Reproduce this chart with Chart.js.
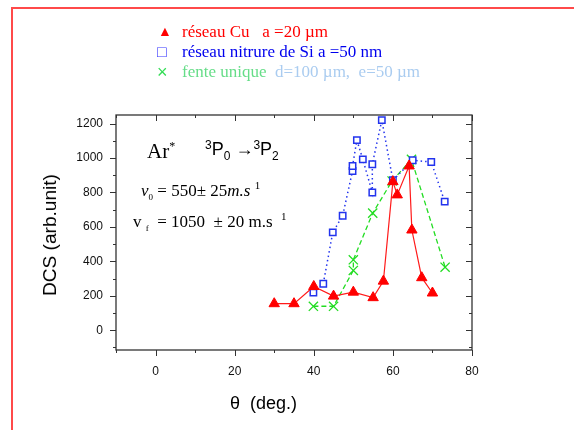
<!DOCTYPE html>
<html>
<head>
<meta charset="utf-8">
<script src="https://cdn.jsdelivr.net/npm/chart.js@4/dist/chart.umd.min.js"></script>
<style>
	body { margin: 0; background: #fff; }
	#wrap { position: relative; width: 574px; height: 430px; overflow: hidden; }
	#c { position: absolute; left: 0; top: 0; }
	.t { position: absolute; white-space: pre; line-height: 1; }
	.serif { font-family: "Liberation Serif", "Times New Roman", serif; }
	.sans { font-family: "Liberation Sans", Arial, sans-serif; }
	#frame { position: absolute; left: 11px; top: 7px; width: 700px; height: 600px; border-left: 2px solid #ff4a4a; border-top: 2px solid #ff4a4a; }
</style>
</head>
<body>
<div id="wrap">
	<div id="frame"></div>
	<canvas id="c" width="574" height="430"></canvas>

	<!-- legend -->
	<div class="t sans" style="left:158px;top:24px;font-size:14px;color:#ff0000">▲</div>
	<div class="t serif" style="left:182px;top:23px;font-size:17px;color:#ff0000">réseau Cu   a =20 µm</div>
	<div class="t sans" style="left:157px;top:44px;font-size:16px;color:#3333ff">□</div>
	<div class="t serif" style="left:182px;top:43px;font-size:17px;color:#0000ee">réseau nitrure de Si a =50 nm</div>
	<div class="t sans" style="left:157px;top:63px;font-size:18px;color:#33dd55">×</div>
	<div class="t serif" style="left:182px;top:63px;font-size:17px"><span style="color:#66dd88">fente unique</span>  <span style="color:#aaccf0">d=100 µm,  e=50 µm</span></div>

	<!-- annotations -->
	<div class="t serif" style="left:147px;top:140px;font-size:21px">Ar<sup style="font-size:12px;vertical-align:8px">*</sup></div>
	<div class="t sans" style="left:205px;top:139px;font-size:18px"><sup style="font-size:12px;vertical-align:6px">3</sup>P<sub style="font-size:12px;vertical-align:-5px">0</sub> →<sup style="font-size:12px;vertical-align:6px">3</sup>P<sub style="font-size:12px;vertical-align:-5px">2</sub></div>
	<div class="t serif" style="left:141px;top:180px;font-size:17px"><i>v</i><sub style="font-size:9px">0</sub> = 550± 25<i>m.s</i> <sup style="font-size:11px">1</sup></div>
	<div class="t serif" style="left:133px;top:211px;font-size:17px">v <sub style="font-size:9px">f</sub>  = 1050  ± 20 m.s  <sup style="font-size:11px">1</sup></div>

	<!-- axis titles -->
	<div class="t sans" style="left:50px;top:235px;font-size:18px;transform:translate(-50%,-50%) rotate(-90deg) scale(1.06,1)">DCS (arb.unit)</div>
	<div class="t sans" style="left:230px;top:394px;font-size:18px">θ  (deg.)</div>
</div>

<script>
const cuTheta = [30, 35, 40, 45, 50, 55, 57.6, 60, 61.1, 64.1, 64.8, 67.3, 70];
const cuDcs = [154, 154, 254, 198, 221, 189, 285, 863, 786, 954, 582, 305, 216];

const siTheta = [39.9, 42.4, 44.8, 47.3, 49.8, 49.8, 50.9, 52.4, 54.8, 54.8, 57.2, 60, 65, 69.7, 73.1];
const siDcs = [218, 270, 568, 665, 925, 954, 1104, 992, 800, 964, 1220, 871, 987, 977, 747];

const slitTheta = [39.9, 45, 50, 50, 54.9, 59.8, 64.7, 73.2];
const slitDcs = [139, 139, 347, 409, 680, 867, 992, 366];

const xTicks = [0, 20, 40, 60, 80];
const yTicks = [0, 200, 400, 600, 800, 1000, 1200];

function pts(xs, ys) {
	return xs.map((v, i) => ({ x: v, y: ys[i] }));
}

// box round the plot, with the small ticks on all four sides
const framePlugin = {
	id: "frame",
	afterDraw(chart) {
		const ctx = chart.ctx;
		const a = chart.chartArea;
		const x = chart.scales.x;
		const y = chart.scales.y;
		ctx.save();
		ctx.strokeStyle = "#333";
		ctx.lineWidth = 1.3;
		ctx.strokeRect(a.left, a.top, a.right - a.left, a.bottom - a.top);
		ctx.lineWidth = 1;
		ctx.beginPath();
		for (let v = -10; v <= 80; v += 10) {
			const p = Math.round(x.getPixelForValue(v)) + 0.5;
			const len = xTicks.includes(v) ? 6 : 3;
			ctx.moveTo(p, a.bottom); ctx.lineTo(p, a.bottom + len);
			ctx.moveTo(p, a.top); ctx.lineTo(p, a.top + len);
		}
		for (let v = -100; v <= 1200; v += 100) {
			const p = Math.round(y.getPixelForValue(v)) + 0.5;
			const len = yTicks.includes(v) ? 6 : 3;
			ctx.moveTo(a.left - len, p); ctx.lineTo(a.left, p);
			ctx.moveTo(a.right - len, p); ctx.lineTo(a.right, p);
		}
		ctx.stroke();
		ctx.restore();
	}
};

const tickFont = { family: "'Liberation Sans', Arial, sans-serif", size: 12 };

new Chart("c", {
	type: "scatter",
	data: {
		datasets: [{
				label: "réseau Cu",
				data: pts(cuTheta, cuDcs),
				showLine: true,
				borderColor: "#ff1a1a",
				backgroundColor: "#ff0000",
				borderWidth: 1.2,
				pointStyle: "triangle",
				pointRadius: 6,
				pointBorderWidth: 1,
				pointBorderColor: "#ff0000"
			},
			{
				label: "réseau nitrure de Si",
				data: pts(siTheta, siDcs),
				showLine: true,
				borderColor: "#2233ee",
				borderWidth: 1.5,
				borderDash: [1.5, 3],
				backgroundColor: "#ffffff",
				pointStyle: "rect",
				pointRadius: 4.5,
				pointBorderWidth: 1.5,
				pointBorderColor: "#2233ee"
			},
			{
				label: "fente unique",
				data: pts(slitTheta, slitDcs),
				showLine: true,
				borderColor: "#22dd22",
				borderWidth: 1.3,
				borderDash: [5, 3],
				backgroundColor: "#22dd22",
				pointStyle: "crossRot",
				pointRadius: 6.5,
				pointBorderWidth: 1.3,
				pointBorderColor: "#22dd22"
			}
		]
	},
	options: {
		responsive: false,
		animation: false,
		devicePixelRatio: 1,
		layout: { padding: { left: 0, top: 115, right: 102, bottom: 0 } },
		plugins: {
			legend: { display: false },
			tooltip: { enabled: false }
		},
		scales: {
			x: {
				type: "linear",
				min: -10,
				max: 80,
				afterFit: s => { s.height = 80; },
				afterBuildTicks: s => { s.ticks = xTicks.map(v => ({ value: v })); },
				grid: { display: false, drawTicks: true, tickLength: 6 },
				border: { display: false },
				ticks: { padding: 8, color: "#111", font: tickFont, callback: v => String(v) }
			},
			y: {
				type: "linear",
				min: -115,
				max: 1250,
				afterFit: s => { s.width = 116; },
				afterBuildTicks: s => { s.ticks = yTicks.map(v => ({ value: v })); },
				grid: { display: false, drawTicks: true, tickLength: 6 },
				border: { display: false },
				ticks: { padding: 7, color: "#111", font: tickFont, callback: v => String(v) }
			}
		}
	},
	plugins: [framePlugin]
});
</script>
</body>
</html>
